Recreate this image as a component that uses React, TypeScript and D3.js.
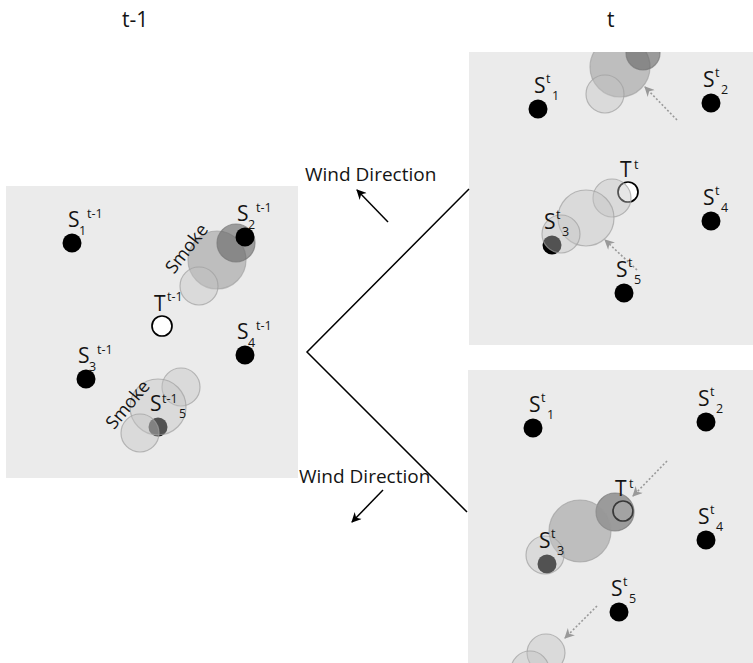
import React from "react";
import * as d3 from "d3";

// ---------- DATA ----------
const nodeIds = ["S1", "S2", "T", "S4", "S3", "S5"];
const nodeX = [67, 240, 157, 240, 81, 153];
const nodeY = [57, 51, 140, 169, 193, 241];
const nodeSub = ["1", "2", "", "4", "3", "5"];

const panelTitles = ["t-1", "t"];
const panelSup = ["t-1", "t", "t"];

// smoke circles per panel: [x, y, r, level(1 light,2 mid,3 dark), under nodes?]
const smokeLeft: [number, number, number, number, boolean][] = [
  [212, 74, 29, 2, true],
  [231, 57, 19, 3, true],
  [194, 100, 19, 1, true],
  [176, 201, 19, 1, false],
  [153, 221, 28, 1, false],
  [135, 247, 19, 1, false],
];
const smokeTopRight: [number, number, number, number, boolean][] = [
  [149, 15, 30, 2, false],
  [172, 1, 17, 3, false],
  [134, 42, 19, 1, false],
  [141, 146, 19, 1, false],
  [115, 166, 28, 1, false],
  [90, 182, 19, 1, false],
];
const smokeBottomRight: [number, number, number, number, boolean][] = [
  [149, 141, 19, 3, false],
  [114, 160, 31, 2, false],
  [79, 184, 19, 1, false],
  [80, 282, 19, 1, false],
  [64, 299, 19, 1, false],
];

// dotted drift arrows per panel: [x1, y1, x2, y2]
const driftTopRight = [
  [206, 68, 174, 35],
  [166, 218, 134, 188],
];
const driftBottomRight = [
  [201, 90, 167, 125],
  [131, 235, 99, 267],
];

const smokeLabels = [
  { text: "Smoke", x: 181, y: 62, angle: -52 },
  { text: "Smoke", x: 122, y: 218, angle: -50 },
];

const windLabel = "Wind Direction";

// ---------- LAYOUT ----------
const W = 753;
const H = 663;
const FONT = "'Open Sans', 'Noto Sans', sans-serif";
const INK = "#141414";

const panels = [
  { rect: [6, 186, 292, 292], off: [5, 186], smoke: smokeLeft, drift: [] as number[][], style: "left" },
  { rect: [469, 52, 284, 293], off: [471, 52], smoke: smokeTopRight, drift: driftTopRight, style: "right" },
  { rect: [468, 370, 285, 293], off: [466, 371], smoke: smokeBottomRight, drift: driftBottomRight, style: "right" },
];

const smokeStyle: Record<number, any> = {
  1: { fill: "#c4c4c4", fillOpacity: 0.42, stroke: "#a0a0a0", strokeOpacity: 0.7 },
  2: { fill: "#969696", fillOpacity: 0.52, stroke: "#999999", strokeOpacity: 0.6 },
  3: { fill: "#606060", fillOpacity: 0.58, stroke: "#777777", strokeOpacity: 0.7 },
};

function Smoke({ c, sx, sy }: any) {
  const st = smokeStyle[c[3]];
  return (
    <circle
      cx={sx(c[0])}
      cy={sy(c[1])}
      r={c[2]}
      fill={st.fill}
      fillOpacity={st.fillOpacity}
      stroke={st.stroke}
      strokeOpacity={st.strokeOpacity}
      strokeWidth={1.2}
    />
  );
}

function NodeLabel({ id, sub, sup, x, y, style }: any) {
  const isT = id === "T";
  const lx = x + (id === "S1" ? -4 : -8);
  const ly = y - (isT ? 15 : 16);
  const big = 21;
  const small = 12.5;
  let supPos: number[];
  let subPos: number[] | null = null;
  if (style === "left") {
    if (isT) supPos = [lx + 13, ly - 10];
    else if (id === "S5") {
      supPos = [lx + 12, ly - 8];
      subPos = [lx + 29, ly + 7];
    } else {
      supPos = [lx + 19, ly - 9];
      subPos = [lx + 11, ly + 8];
    }
  } else {
    if (isT) supPos = [lx + 14, ly - 8];
    else {
      supPos = [lx + 12, ly - 10];
      subPos = [lx + 18, ly + 7];
    }
  }
  return (
    <g fontFamily={FONT} fill={INK}>
      <text x={lx} y={ly} fontSize={big}>{isT ? "T" : "S"}</text>
      <text x={supPos[0]} y={supPos[1]} fontSize={small}>{sup}</text>
      {subPos && sub && (
        <text x={subPos[0]} y={subPos[1]} fontSize={small}>{sub}</text>
      )}
    </g>
  );
}

function Panel({ p, idx }: any) {
  const [rx, ry, rw, rh] = p.rect;
  const sx = d3.scaleLinear().domain([0, 100]).range([p.off[0], p.off[0] + 100]);
  const sy = d3.scaleLinear().domain([0, 100]).range([p.off[1], p.off[1] + 100]);
  const clipId = `clip-${idx}`;
  const under = p.smoke.filter((c: any) => c[4]);
  const over = p.smoke.filter((c: any) => !c[4]);
  return (
    <g>
      <defs>
        <clipPath id={clipId}>
          <rect x={rx} y={ry} width={rw} height={rh} />
        </clipPath>
      </defs>
      <rect x={rx} y={ry} width={rw} height={rh} fill="#ebebeb" />
      <g clipPath={`url(#${clipId})`}>
        {under.map((c: any, i: number) => (
          <Smoke key={"u" + i} c={c} sx={sx} sy={sy} />
        ))}
        {nodeIds.map((id, i) =>
          id === "T" ? (
            <circle key={id} cx={sx(nodeX[i])} cy={sy(nodeY[i])} r={10} fill="#fff" stroke="#000" strokeWidth={1.7} />
          ) : (
            <circle key={id} cx={sx(nodeX[i])} cy={sy(nodeY[i])} r={9.5} fill="#000" />
          )
        )}
        {over.map((c: any, i: number) => (
          <Smoke key={"o" + i} c={c} sx={sx} sy={sy} />
        ))}
        {p.drift.map((d: number[], i: number) => (
          <line
            key={"d" + i}
            x1={sx(d[0])}
            y1={sy(d[1])}
            x2={sx(d[2])}
            y2={sy(d[3])}
            stroke="#999"
            strokeWidth={1.6}
            strokeDasharray="2,2"
            markerEnd="url(#grayHead)"
          />
        ))}
        {nodeIds.map((id, i) => (
          <NodeLabel
            key={"l" + id}
            id={id}
            sub={nodeSub[i]}
            sup={panelSup[idx]}
            x={sx(nodeX[i])}
            y={sy(nodeY[i])}
            style={p.style}
          />
        ))}
        {idx === 0 &&
          smokeLabels.map((s, i) => (
            <text
              key={"s" + i}
              transform={`translate(${sx(s.x)},${sy(s.y)}) rotate(${s.angle})`}
              textAnchor="middle"
              dominantBaseline="central"
              fontFamily={FONT}
              fontSize={18}
              fill={INK}
            >
              {s.text}
            </text>
          ))}
      </g>
    </g>
  );
}

export default function App() {
  const zig = d3.line()([
    [469, 189],
    [307, 352],
    [467, 512],
  ]);
  return (
    <svg
      width={W}
      height={H}
      style={{ position: "absolute", left: 0, top: 0, background: "#fff" }}
    >
      <defs>
        <marker id="blackHead" viewBox="0 0 10 10" refX={9} refY={5} markerWidth={12} markerHeight={10} markerUnits="userSpaceOnUse" orient="auto">
          <path d="M0,0 L10,5 L0,10 L3,5 Z" fill="#000" />
        </marker>
        <marker id="grayHead" viewBox="0 0 10 10" refX={9} refY={5} markerWidth={11} markerHeight={10} markerUnits="userSpaceOnUse" orient="auto">
          <path d="M0,0 L10,5 L0,10 L3,5 Z" fill="#999" />
        </marker>
      </defs>

      <text x={122} y={27} fontFamily={FONT} fontSize={21} fill={INK}>{panelTitles[0]}</text>
      <text x={607} y={27} fontFamily={FONT} fontSize={21} fill={INK}>{panelTitles[1]}</text>

      {panels.map((p, i) => (
        <Panel key={i} p={p} idx={i} />
      ))}

      <path d={zig || ""} fill="none" stroke="#000" strokeWidth={1.5} />

      <text x={305} y={181} fontFamily={FONT} fontSize={19} fill={INK}>{windLabel}</text>
      <line x1={388} y1={222} x2={357} y2={190} stroke="#000" strokeWidth={1.5} markerEnd="url(#blackHead)" />

      <text x={299} y={483} fontFamily={FONT} fontSize={19} fill={INK}>{windLabel}</text>
      <line x1={383} y1={490} x2={352} y2={522} stroke="#000" strokeWidth={1.5} markerEnd="url(#blackHead)" />
    </svg>
  );
}
